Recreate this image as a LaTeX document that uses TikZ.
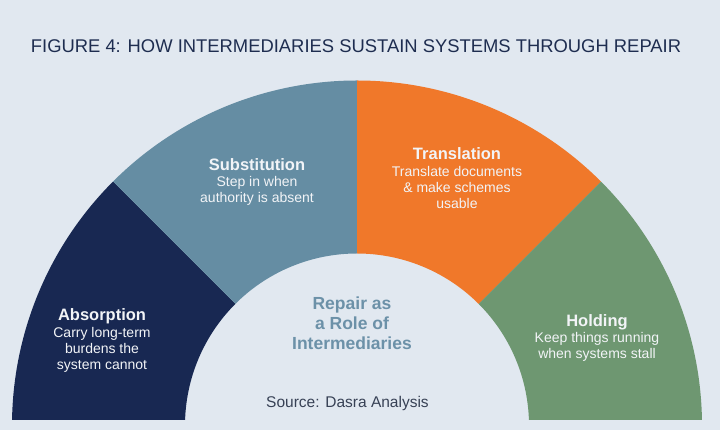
\documentclass[tikz,border=0pt]{standalone}
\usepackage{fontspec}
\setmainfont{Liberation Sans}
\usepackage{tikz}
\usetikzlibrary{calc,positioning}
\definecolor{bgGray}{RGB}{225,232,240}
\definecolor{roleNavy}{RGB}{24,40,82}
\definecolor{roleSteel}{RGB}{101,141,163}
\definecolor{roleOrange}{RGB}{240,120,42}
\definecolor{roleSage}{RGB}{110,151,113}
\definecolor{titleNavy}{RGB}{30,45,80}
\definecolor{hubSteel}{RGB}{108,145,168}
\definecolor{srcGray}{RGB}{55,65,85}
\definecolor{roleText}{RGB}{242,244,247}

\begin{document}
\begin{tikzpicture}[x=1pt, y=1pt, every node/.style={inner sep=0pt},
  rolehead/.style={font=\fontsize{16.5}{18}\selectfont\bfseries, text=roleText, anchor=base},
  roledesc/.style={font=\fontsize{14}{16}\selectfont, text=roleText, align=center, anchor=base}]
  % Background
  \fill[bgGray] (0,0) rectangle (720,430);
  \useasboundingbox (0,0) rectangle (720,430);
  \coordinate (hub) at (357,4.5);
  % Half ring, cut at the bottom
  \begin{scope}
    \clip (0,10) rectangle (720,430);
    \fill[roleNavy] ($(hub)+(180:345)$) arc[start angle=180, end angle=135, radius=345pt]
      -- ($(hub)+(135:172)$) arc[start angle=135, end angle=180, radius=172pt] -- cycle;
    \fill[roleSteel] ($(hub)+(135:345)$) arc[start angle=135, end angle=90, radius=345pt]
      -- ($(hub)+(90:172)$) arc[start angle=90, end angle=135, radius=172pt] -- cycle;
    \fill[roleOrange] ($(hub)+(90:345)$) arc[start angle=90, end angle=45, radius=345pt]
      -- ($(hub)+(45:172)$) arc[start angle=45, end angle=90, radius=172pt] -- cycle;
    \fill[roleSage] ($(hub)+(45:345)$) arc[start angle=45, end angle=0, radius=345pt]
      -- ($(hub)+(0:172)$) arc[start angle=0, end angle=45, radius=172pt] -- cycle;
  \end{scope}
  % Title
  \node[font=\fontsize{18.4}{20}\selectfont, text=titleNavy] (title) at (356,383.5)
    {FIGURE 4: HOW INTERMEDIARIES SUSTAIN SYSTEMS THROUGH REPAIR};
  % Roles (multi-line texts sit on the baseline of their last line)
  \node[rolehead] (absHead) at (102,109) {Absorption};
  \node[roledesc] (absDesc) at (102,60.7) {Carry long-term\\burdens the\\system cannot};
  \node[rolehead] (subHead) at (257,259.3) {Substitution};
  \node[roledesc] (subDesc) at (257,227.3) {Step in when\\authority is absent};
  \node[rolehead] (trnHead) at (457,270.7) {Translation};
  \node[roledesc] (trnDesc) at (457,221.7) {Translate documents\\\& make schemes\\usable};
  \node[rolehead] (hldHead) at (597,103.3) {Holding};
  \node[roledesc] (hldDesc) at (597,71) {Keep things running\\when systems stall};
  % Centre
  \node[font=\fontsize{17.5}{20}\selectfont\bfseries, text=hubSteel, align=center, anchor=base]
    (hubText) at (352,80.7) {Repair as\\a Role of\\Intermediaries};
  \node[font=\fontsize{15.5}{18}\selectfont, text=srcGray, anchor=base] (source) at (347.5,22.7)
    {Source: Dasra Analysis};
\end{tikzpicture}
\end{document}
